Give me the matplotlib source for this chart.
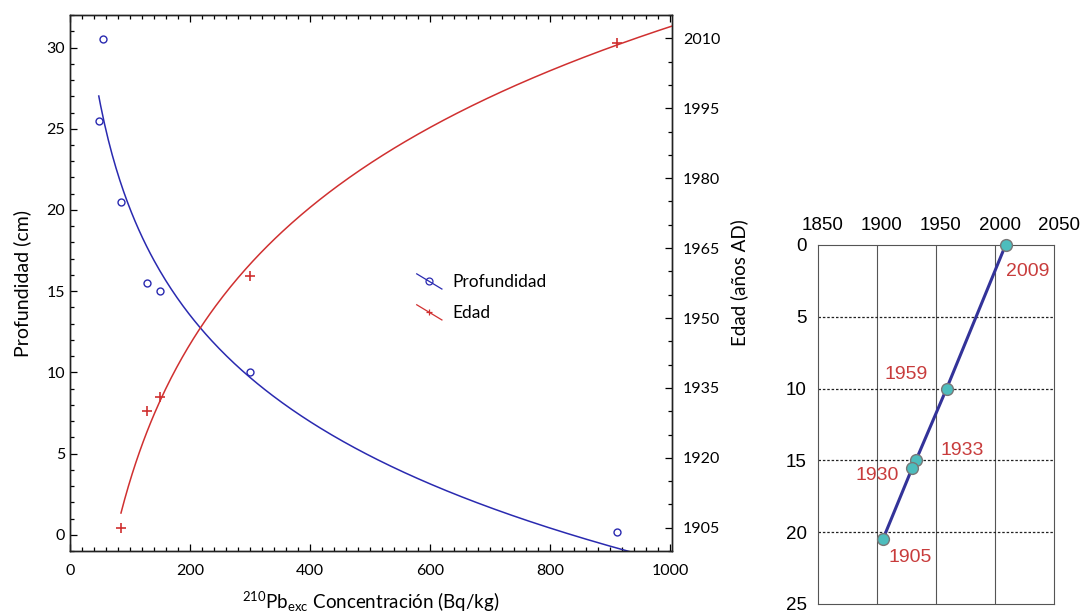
import numpy as np
import matplotlib
matplotlib.use("Agg")
import matplotlib.pyplot as plt
from matplotlib.lines import Line2D
from matplotlib.legend_handler import HandlerBase
from matplotlib.ticker import MultipleLocator
from matplotlib.transforms import ScaledTranslation

# --- data ---
# 210Pb excess concentration (Bq/kg) vs depth (cm)
conc_depth = [55, 48, 85, 128, 150, 300, 912]
depth = [30.5, 25.5, 20.5, 15.5, 15.0, 10.0, 0.2]
# concentration vs age (years AD)
conc_age = [85, 128, 150, 300, 912]
age = [1905, 1930, 1933, 1959, 2009]

# age-depth model (right panel)
model_years = [2009, 1959, 1933, 1930, 1905]
model_depth = [0, 10, 15, 15.5, 20.5]
model_labels = ["2009", "1959", "1933", "1930", "1905"]
label_offsets = [(22, -27), (-40, 14), (46, 10), (-35, -8), (27, -18)]
year_ticks = [1850, 1900, 1950, 2000, 2050]
depth_ticks = [0, 5, 10, 15, 20, 25]

BLUE = "#2a2ab0"
RED = "#d03030"

plt.rcParams["font.family"] = ["Lato", "DejaVu Sans"]


class DiagHandler(HandlerBase):
    # legend key drawn as a short diagonal line with the marker in the middle
    def create_artists(self, legend, orig_handle, xdescent, ydescent,
                       width, height, fontsize, trans):
        x0, x1 = -xdescent, -xdescent + width
        y0, y1 = -ydescent + height * 1.1, -ydescent - height * 0.15
        ln = Line2D([x0, x1], [y0, y1], color=orig_handle.get_color(), lw=0.9)
        mk = Line2D([(x0 + x1) / 2], [(y0 + y1) / 2], ls="none",
                    marker=orig_handle.get_marker(), ms=5,
                    mfc="none", mec=orig_handle.get_color(), mew=0.9)
        ln.set_transform(trans)
        mk.set_transform(trans)
        return [ln, mk]


fig = plt.figure(figsize=(10.83, 6.16), dpi=100)

# ---------------- left panel ----------------
ax = fig.add_axes([0.0646, 0.1055, 0.5559, 0.870])
ax2 = ax.twinx()

# log fits drawn from the data
cb = np.polyfit(np.log(conc_depth), depth, 1)
xb = np.linspace(min(conc_depth), 1000, 300)
ax.plot(xb, np.polyval(cb, np.log(xb)), color=BLUE, lw=1.1)
ax.plot(conc_depth, depth, "o", mfc="none", mec=BLUE, ms=5, mew=1.0)

cr = np.polyfit(np.log(conc_age), age, 1)
xr = np.linspace(min(conc_age), 1010, 300)
ax2.plot(xr, np.polyval(cr, np.log(xr)), color=RED, lw=1.1)
ax2.plot(conc_age, age, "+", color=RED, ms=7, mew=1.2)

ax.set_xlim(0, 1003)
ax.set_ylim(-1, 32)
ax2.set_ylim(1900, 2015)

ax.xaxis.set_major_locator(MultipleLocator(200))
ax.xaxis.set_minor_locator(MultipleLocator(20))
ax.yaxis.set_major_locator(MultipleLocator(5))
ax.yaxis.set_minor_locator(MultipleLocator(1))
ax2.yaxis.set_major_locator(MultipleLocator(15))
ax2.yaxis.set_minor_locator(MultipleLocator(5))

ax.tick_params(which="both", direction="in", top=True, labelsize=11.5, width=0.9)
ax.tick_params(which="major", length=5)
ax.tick_params(which="minor", length=3)
ax.tick_params(axis="x", which="major", pad=9)
ax2.tick_params(which="both", direction="in", labelsize=11.5, width=0.9)
ax2.tick_params(which="major", length=5, pad=8)
ax2.tick_params(which="minor", length=3)
for a in (ax, ax2):
    for s in a.spines.values():
        s.set_linewidth(1.0)
        s.set_color("#222222")

ax.set_ylabel("Profundidad (cm)", fontsize=14, labelpad=11)
ax2.set_ylabel("Edad (años AD)", fontsize=13.5, labelpad=7)
ax.set_xlabel(r"$\mathregular{^{210}Pb_{exc}}$ Concentración (Bq/kg)",
              fontsize=13.5, labelpad=9)

h1 = Line2D([], [], color=BLUE, marker="o")
h2 = Line2D([], [], color=RED, marker="+")
ax.legend([h1, h2], ["Profundidad", "Edad"], loc="upper left",
          bbox_to_anchor=(0.576, 0.5165), frameon=False, fontsize=12.5,
          handlelength=1.45, handletextpad=0.6, labelspacing=0.86,
          borderpad=0, borderaxespad=0,
          handler_map={Line2D: DiagHandler()})

# ---------------- right panel ----------------
axr = fig.add_axes([0.7553, 0.0195, 0.2179, 0.5828])
axr.set_xlim(1850, 2050)
axr.set_ylim(25, 0)
axr.set_xticks(year_ticks)
axr.set_yticks(depth_ticks)
axr.xaxis.tick_top()
axr.tick_params(length=0, labelsize=13.5, pad=8)
shift = ScaledTranslation(5 / 100, 0, fig.dpi_scale_trans)
for lab in axr.get_xticklabels():
    lab.set_fontfamily("Liberation Sans")
    lab.set_transform(lab.get_transform() + shift)
for lab in axr.get_yticklabels():
    lab.set_fontfamily("Liberation Sans")
for x in year_ticks[1:-1]:
    axr.axvline(x, color="#555555", lw=0.8, zorder=1)
for y in depth_ticks[1:-1]:
    axr.axhline(y, color="#222222", lw=0.9, ls=(0, (2, 1.5)), zorder=1)
for s in axr.spines.values():
    s.set_color("#555555")
    s.set_linewidth(0.8)

axr.plot(model_years, model_depth, color="#333399", lw=2.2, zorder=2)
axr.plot(model_years, model_depth, "o", ms=8.5, mfc="#4dbdbd", mec="#777777",
         mew=1.0, zorder=3, clip_on=False)
for xv, yv, lab, off in zip(model_years, model_depth, model_labels, label_offsets):
    axr.annotate(lab, (xv, yv), xytext=off, textcoords="offset pixels",
                 ha="center", va="center", color="#c83c3c", fontsize=14,
                 family="Liberation Sans")

fig.savefig("out.png", dpi=100)
